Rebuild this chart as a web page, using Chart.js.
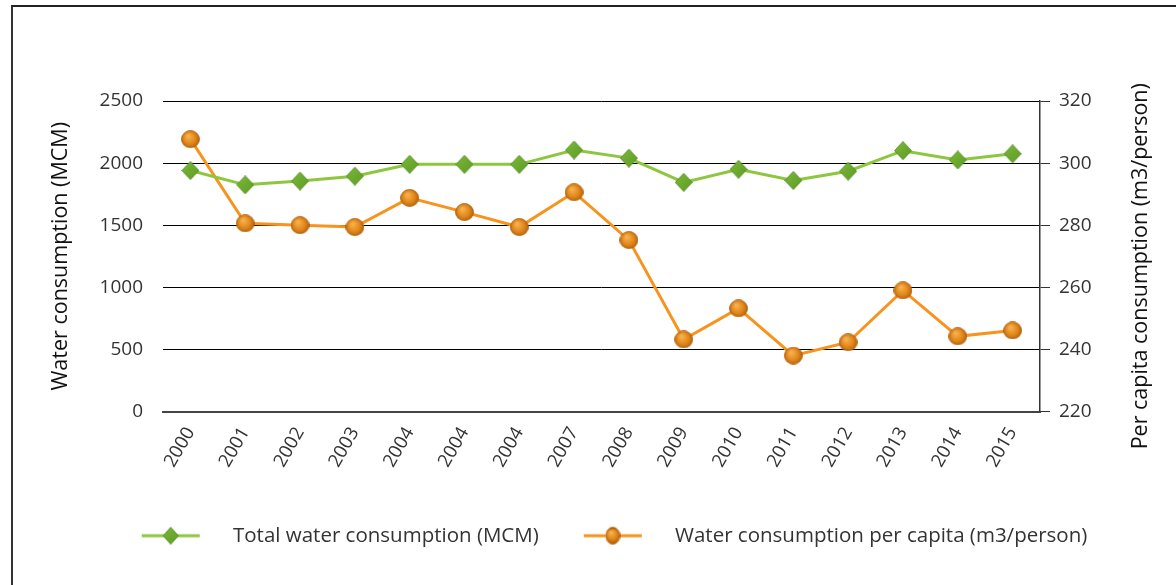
<!DOCTYPE html>
<html>
<head>
<meta charset="utf-8">
<script src="https://cdn.jsdelivr.net/npm/chart.js@4"></script>
<style>
	html, body { margin: 0; padding: 0; background: #fff; }
	#wrap { position: relative; width: 1176px; height: 585px; }
	#frame { position: absolute; left: 11px; top: 5px; right: 0; bottom: 0; border-left: 2px solid #333; border-top: 2px solid #222; }
	canvas { position: absolute; left: 0; top: 0; }
</style>
</head>
<body>
<div id="wrap">
	<div id="frame"></div>
	<canvas id="myChart" width="1176" height="585"></canvas>
</div>
<script>
(() => {
	"use strict";

	const years = ["2000", "2001", "2002", "2003", "2004", "2004", "2004", "2007",
		"2008", "2009", "2010", "2011", "2012", "2013", "2014", "2015"];
	const totalConsumption = [1940, 1825, 1855, 1895, 1990, 1990, 1990, 2105,
		2040, 1845, 1950, 1860, 1935, 2100, 2025, 2075];
	const perCapita = [307.7, 280.6, 280.0, 279.4, 288.8, 284.2, 279.4, 290.6,
		275.2, 243.2, 253.2, 238.0, 242.3, 259.0, 244.2, 246.1];
	const leftTicks = [0, 500, 1000, 1500, 2000, 2500];
	const rightTicks = [220, 240, 260, 280, 300, 320];
	const rightTitle = "Per capita consumption (m3/person)";

	const fontFamily = "'Open Sans', 'DejaVu Sans', sans-serif";

	// marker pictures
	function diamond(w, h) {
		const c = document.createElement("canvas");
		c.width = w; c.height = h;
		const g = c.getContext("2d");
		g.beginPath();
		g.moveTo(w / 2, 0.5); g.lineTo(w - 0.5, h / 2); g.lineTo(w / 2, h - 0.5); g.lineTo(0.5, h / 2);
		g.closePath();
		const grad = g.createLinearGradient(0, 0, w, h);
		grad.addColorStop(0, "#7dbb3a");
		grad.addColorStop(1, "#5c9a24");
		g.fillStyle = grad;
		g.fill();
		g.strokeStyle = "#5a8f28";
		g.lineWidth = 1;
		g.stroke();
		return c;
	}
	function ball(w, h) {
		const c = document.createElement("canvas");
		c.width = w; c.height = h;
		const g = c.getContext("2d");
		const grad = g.createRadialGradient(w * 0.38, h * 0.32, 1, w / 2, h / 2, w / 2);
		grad.addColorStop(0, "#f6b14a");
		grad.addColorStop(0.6, "#e0861b");
		grad.addColorStop(1, "#b35f0c");
		g.beginPath();
		g.ellipse(w / 2, h / 2, w / 2 - 0.5, h / 2 - 0.5, 0, 0, Math.PI * 2);
		g.fillStyle = grad;
		g.fill();
		g.strokeStyle = "#b0600e";
		g.lineWidth = 0.8;
		g.stroke();
		return c;
	}
	function legendIcon(marker, color) {
		const c = document.createElement("canvas");
		c.width = 110; c.height = 22;
		const g = c.getContext("2d");
		g.strokeStyle = color;
		g.lineWidth = 3;
		g.beginPath();
		g.moveTo(29, 11); g.lineTo(87, 11);
		g.stroke();
		g.drawImage(marker, 58 - marker.width / 2, 11 - marker.height / 2);
		return c;
	}

	const greenMark = diamond(18, 19);
	const orangeMark = ball(19, 18);
	const greenIcon = legendIcon(diamond(16, 18), "#8dc63f");
	const orangeIcon = legendIcon(ball(15, 18), "#f7941d");

	// right axis title reads bottom to top
	const rightTitlePlugin = {
		id: "rightTitle",
		afterDraw(chart) {
			const area = chart.chartArea;
			const c = chart.ctx;
			c.save();
			c.translate(1141, (area.top + area.bottom) / 2 + 10);
			c.rotate(-Math.PI / 2);
			c.font = "21.5px " + fontFamily;
			c.fillStyle = "#111";
			c.textAlign = "center";
			c.textBaseline = "middle";
			c.fillText(rightTitle, 0, 0);
			c.restore();
		},
	};

	const ctx = document.getElementById("myChart");
	// eslint-disable-next-line no-unused-vars
	const myChart = new Chart(ctx, {
		type: "line",
		plugins: [rightTitlePlugin],
		data: {
			labels: years,
			datasets: [
				{
					label: "Total water consumption (MCM)",
					data: totalConsumption,
					yAxisID: "y",
					borderColor: "#8dc63f",
					backgroundColor: "#8dc63f",
					borderWidth: 3,
					tension: 0,
					pointStyle: greenMark,
				},
				{
					label: "Water consumption per capita (m3/person)",
					data: perCapita,
					yAxisID: "y1",
					borderColor: "#f7941d",
					backgroundColor: "#f7941d",
					borderWidth: 3,
					tension: 0,
					pointStyle: orangeMark,
				},
			],
		},
		options: {
			responsive: false,
			animation: false,
			layout: {
				padding: { top: 101, left: 48, right: 24, bottom: 29 },
			},
			plugins: {
				tooltip: { enabled: false },
				legend: {
					display: true,
					position: "bottom",
					labels: {
						color: "#333",
						font: { family: fontFamily, size: 20.5 },
						usePointStyle: true,
						pointStyleWidth: 110,
						padding: 16,
						generateLabels: (chart) => chart.data.datasets.map((ds, i) => ({
							text: ds.label,
							pointStyle: i === 0 ? greenIcon : orangeIcon,
							fontColor: "#333",
							datasetIndex: i,
							hidden: false,
							lineWidth: 0,
						})),
					},
				},
			},
			scales: {
				x: {
					offset: true,
					grid: { display: false },
					border: { display: true, color: "#444", width: 2 },
					ticks: {
						color: "#333",
						font: { family: fontFamily, size: 18.5 },
						minRotation: 60,
						maxRotation: 60,
						padding: 4,
					},
					afterFit: (axis) => { axis.height = 98; },
				},
				y: {
					position: "left",
					min: 0,
					max: 2500,
					afterBuildTicks: (axis) => { axis.ticks = leftTicks.map((v) => ({ value: v })); },
					grid: { color: "#000", lineWidth: 1, drawTicks: false },
					border: { display: false },
					ticks: {
						color: "#333",
						font: { family: fontFamily, size: 19 },
						padding: 20,
						callback: (v) => String(v),
					},
					title: {
						display: true,
						text: "Water consumption (MCM)",
						color: "#111",
						font: { family: fontFamily, size: 21.5 },
						padding: 0,
					},
					afterFit: (axis) => { axis.width = 115; },
				},
				y1: {
					position: "right",
					min: 220,
					max: 320,
					afterBuildTicks: (axis) => { axis.ticks = rightTicks.map((v) => ({ value: v })); },
					grid: { drawOnChartArea: false, drawTicks: true, tickLength: 10, color: "#333" },
					border: { display: true, color: "#333", width: 1.5 },
					ticks: {
						color: "#333",
						font: { family: fontFamily, size: 19 },
						padding: 9,
						callback: (v) => String(v),
					},
					title: { display: false },
					afterFit: (axis) => { axis.width = 112; },
				},
			},
		},
	});
})();
</script>
</body>
</html>
